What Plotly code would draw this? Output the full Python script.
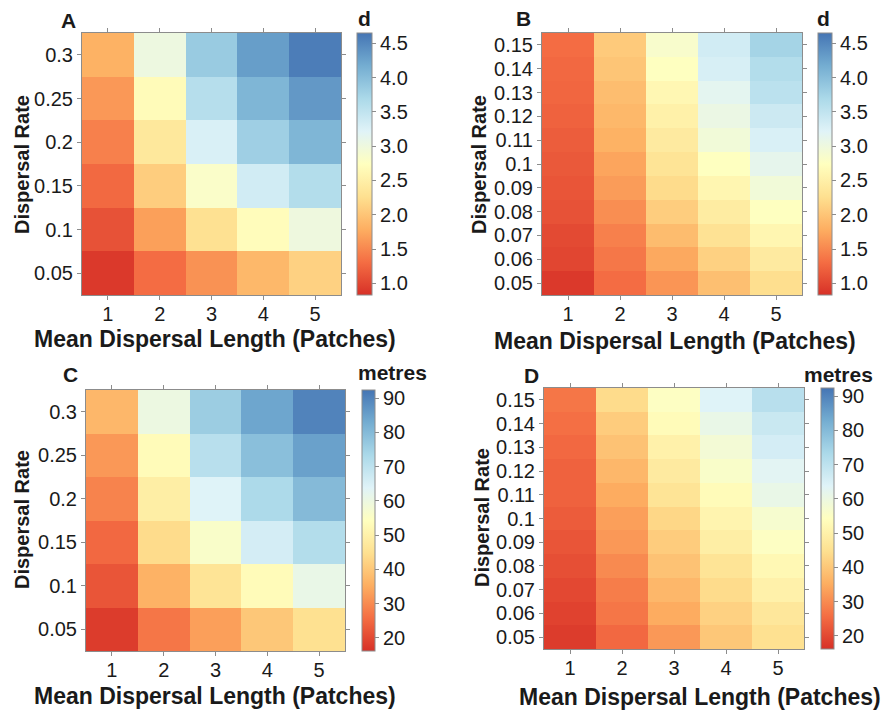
import plotly.graph_objects as go

# ---------------- data ----------------
mean_length = [1, 2, 3, 4, 5]
rate_coarse = [0.05, 0.1, 0.15, 0.2, 0.25, 0.3]
rate_coarse_labels = ["0.05", "0.1", "0.15", "0.2", "0.25", "0.3"]
rate_fine = [0.05, 0.06, 0.07, 0.08, 0.09, 0.10, 0.11, 0.12, 0.13, 0.14, 0.15]
rate_fine_labels = ["0.05", "0.06", "0.07", "0.08", "0.09", "0.1",
                    "0.11", "0.12", "0.13", "0.14", "0.15"]

# Panel A: d, rows = dispersal rate (0.05 .. 0.3), cols = mean length 1..5
d_A = [
    [0.90, 1.30, 1.58, 1.88, 2.12],
    [1.10, 1.68, 2.28, 2.70, 3.00],
    [1.28, 2.08, 2.82, 3.35, 3.62],
    [1.45, 2.38, 3.28, 3.80, 4.08],
    [1.62, 2.68, 3.60, 4.08, 4.35],
    [1.82, 3.02, 3.85, 4.30, 4.58],
]
# Panel B: d, rows = dispersal rate (0.05 .. 0.15)
d_B = [
    [0.90, 1.30, 1.60, 1.95, 2.25],
    [1.00, 1.38, 1.75, 2.12, 2.42],
    [1.03, 1.45, 1.92, 2.30, 2.60],
    [1.10, 1.55, 2.08, 2.45, 2.75],
    [1.12, 1.65, 2.22, 2.60, 2.95],
    [1.15, 1.72, 2.32, 2.75, 3.12],
    [1.18, 1.82, 2.42, 2.95, 3.28],
    [1.22, 1.88, 2.52, 3.05, 3.40],
    [1.25, 1.93, 2.62, 3.15, 3.55],
    [1.27, 2.00, 2.75, 3.30, 3.62],
    [1.30, 2.05, 2.85, 3.35, 3.75],
]
# Panel C: metres
m_C = [
    [18, 27, 33, 40, 45],
    [22, 36, 46, 53, 61],
    [25, 44, 56, 66, 72],
    [29, 49, 64, 73, 80],
    [32, 53, 71, 79, 85],
    [37, 60, 76, 84, 90],
]
# Panel D: metres
m_D = [
    [18, 25, 32, 40, 45],
    [19, 27, 35, 42, 47],
    [20, 28, 37, 44, 50],
    [21, 30, 39, 46, 52],
    [22, 32, 41, 49, 55],
    [23, 33, 43, 51, 57],
    [24, 35, 46, 53, 61],
    [24, 37, 48, 56, 63],
    [25, 39, 50, 58, 66],
    [26, 41, 53, 61, 68],
    [27, 44, 55, 64, 71],
]

# ---------------- styling ----------------
W, H = 885, 711
FONT = "Liberation Sans, Arial, sans-serif"
TXT = "#1a1a1a"
GRID = "#8c8c8c"
TICK_SIZE = 20
colorscale = [
    [0.000, "#d73027"], [0.125, "#f46d43"], [0.250, "#fdae61"],
    [0.375, "#fee090"], [0.500, "#ffffbf"], [0.625, "#e0f3f8"],
    [0.750, "#abd9e9"], [0.875, "#74add1"], [1.000, "#4575b4"],
]

def px_x(v):
    return v / W

def px_y(v):
    return 1 - v / H

# panel geometry in pixels: (x0, x1, y0_top, y1_bottom), colorbar x0, x1
panels = [
    dict(z=d_A, y=rate_coarse, yl=rate_coarse_labels, box=(82, 341, 33, 295), cb=(357, 372),
         zmin=0.83, zmax=4.65, dt=0.5, t0=1.0, fmt=".1f"),
    dict(z=d_B, y=rate_fine, yl=rate_fine_labels, box=(542, 802, 33, 295), cb=(818, 832),
         zmin=0.83, zmax=4.65, dt=0.5, t0=1.0, fmt=".1f"),
    dict(z=m_C, y=rate_coarse, yl=rate_coarse_labels, box=(86, 345, 390, 651), cb=(362, 375),
         zmin=16.2, zmax=92.4, dt=10, t0=20, fmt="d"),
    dict(z=m_D, y=rate_fine, yl=rate_fine_labels, box=(544, 804, 388, 649), cb=(821, 834),
         zmin=16.2, zmax=92.4, dt=10, t0=20, fmt="d"),
]

fig = go.Figure()
layout = dict(
    width=W, height=H, margin=dict(l=0, r=0, t=0, b=0),
    paper_bgcolor="white", plot_bgcolor="white",
    font=dict(family=FONT, color=TXT, size=TICK_SIZE),
    showlegend=False,
)

for i, p in enumerate(panels, start=1):
    x0, x1, yt, yb = p["box"]
    cx0, cx1 = p["cb"]
    xa = "x" if i == 1 else f"x{i}"
    ya = "y" if i == 1 else f"y{i}"
    step = p["y"][1] - p["y"][0]
    fig.add_trace(go.Heatmap(
        z=p["z"], x=mean_length, y=p["y"],
        colorscale=colorscale, zmin=p["zmin"], zmax=p["zmax"],
        xaxis=xa, yaxis=ya, xgap=0, ygap=0,
        colorbar=dict(
            x=px_x(cx0), xanchor="left", xpad=0, ypad=0,
            y=px_y((yt + yb) / 2), yanchor="middle",
            len=(yb - yt) / H, lenmode="fraction",
            thickness=cx1 - cx0, thicknessmode="pixels",
            outlinecolor=GRID, outlinewidth=1,
            ticks="outside", ticklen=4, tickcolor=GRID,
            tick0=p["t0"], dtick=p["dt"], tickformat=p["fmt"],
            tickfont=dict(size=TICK_SIZE, color=TXT, family=FONT),
        ),
    ))
    axx = dict(
        domain=[px_x(x0), px_x(x1)], anchor=ya,
        range=[0.5, 5.5], tickvals=mean_length, ticktext=[str(v) for v in mean_length],
        showline=True, linecolor=GRID, linewidth=1, mirror="ticks",
        ticks="outside", ticklen=4, tickcolor=GRID, showgrid=False, zeroline=False,
        ticklabelstandoff=-3,
        tickfont=dict(size=TICK_SIZE, color=TXT, family=FONT),
    )
    axy = dict(
        domain=[px_y(yb), px_y(yt)], anchor=xa,
        range=[p["y"][0] - step / 2, p["y"][-1] + step / 2],
        tickvals=p["y"], ticktext=p["yl"],
        showline=True, linecolor=GRID, linewidth=1, mirror="ticks",
        ticks="outside", ticklen=4, tickcolor=GRID, showgrid=False, zeroline=False,
        tickfont=dict(size=TICK_SIZE, color=TXT, family=FONT),
    )
    layout["xaxis" if i == 1 else f"xaxis{i}"] = axx
    layout["yaxis" if i == 1 else f"yaxis{i}"] = axy

fig.update_layout(**layout)

# ---------------- text annotations ----------------
def ann(text, x, y, size=20, angle=0):
    fig.add_annotation(
        text=f"<b>{text}</b>", x=px_x(x), y=px_y(y), xref="paper", yref="paper",
        xanchor="center", yanchor="middle", showarrow=False, textangle=angle,
        font=dict(family=FONT, size=size, color=TXT),
    )

xtitle = "Mean Dispersal Length (Patches)"
ytitle = "Dispersal Rate"
# panel letters
ann("A", 68, 20, 21)
ann("B", 523, 19, 21)
ann("C", 70, 374, 21)
ann("D", 531, 375, 21)
# colorbar titles
ann("d", 364, 18, 21)
ann("d", 823, 18, 21)
ann("metres", 392, 372, 21)
ann("metres", 838, 374, 21)
# axis titles
ann(xtitle, 215, 339, 23)
ann(xtitle, 675, 341, 23)
ann(xtitle, 215, 696, 23)
ann(xtitle, 700, 697, 23)
ann(ytitle, 22, 165, 20, -90)
ann(ytitle, 479, 165, 20, -90)
ann(ytitle, 22, 520, 20, -90)
ann(ytitle, 482, 518, 20, -90)

fig.write_html("out.html")
